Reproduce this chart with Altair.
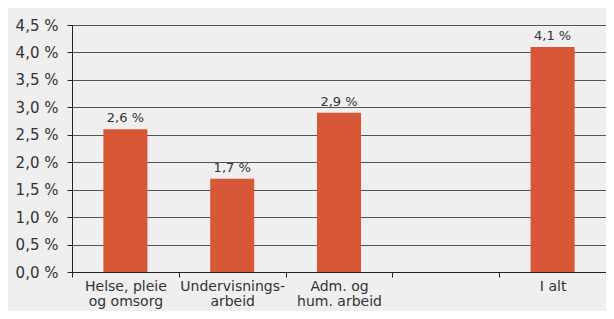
import altair as alt
import pandas as pd

categories = ["Helse, pleie\nog omsorg", "Undervisnings-\narbeid", "Adm. og\nhum. arbeid", " ", "I alt"]
values = [2.6, 1.7, 2.9, None, 4.1]
y_ticks = [0, 0.5, 1, 1.5, 2, 2.5, 3, 3.5, 4, 4.5]

df = pd.DataFrame({"kat": categories, "verdi": values})

FONT = "DejaVu Sans"
TXT = "#333333"

x = alt.X("kat:N", sort=categories, title=None,
          scale=alt.Scale(paddingInner=0, paddingOuter=0),
          axis=alt.Axis(labelAngle=0, labelExpr="split(datum.label, '\\n')",
                        labelFont=FONT, labelFontSize=14, labelColor=TXT,
                        labelLineHeight=15, labelPadding=2,
                        tickBand="extent", tickSize=5, tickColor="#222",
                        domainColor="#222", labelBaseline="top"))
y = alt.Y("verdi:Q", title=None,
          scale=alt.Scale(domain=[0, 4.5], nice=False, zero=True),
          axis=alt.Axis(values=y_ticks, labelOverlap=False, tickCount=10,
                        labelExpr="replace(format(datum.value, '.1f'), '.', ',') + ' %'",
                        labelFont=FONT, labelFontSize=15, labelColor=TXT,
                        labelPadding=9, tickSize=5, tickColor="#222",
                        domainColor="#222", grid=True, gridColor="#555555",
                        gridWidth=1))

bars = alt.Chart(df).mark_bar(color="#d85736", size=44).encode(x=x, y=y)
labels = alt.Chart(df).transform_filter("isValid(datum.verdi)").transform_calculate(
    lbl="replace(format(datum.verdi, '.1f'), '.', ',') + ' %'"
).mark_text(font=FONT, fontSize=13, color=TXT, dy=-7, baseline="alphabetic").encode(
    x=x, y=y, text="lbl:N")

chart = alt.layer(bars, labels).properties(
    width=534, height=247,
    padding={"left": 64, "top": 17, "right": 0, "bottom": 39},
    autosize=alt.AutoSizeParams(type="none"),
    background="#efefef",
).configure_view(stroke="#333333", strokeWidth=1)

chart.save("out.html", embed_options={"renderer": "svg", "actions": False})
